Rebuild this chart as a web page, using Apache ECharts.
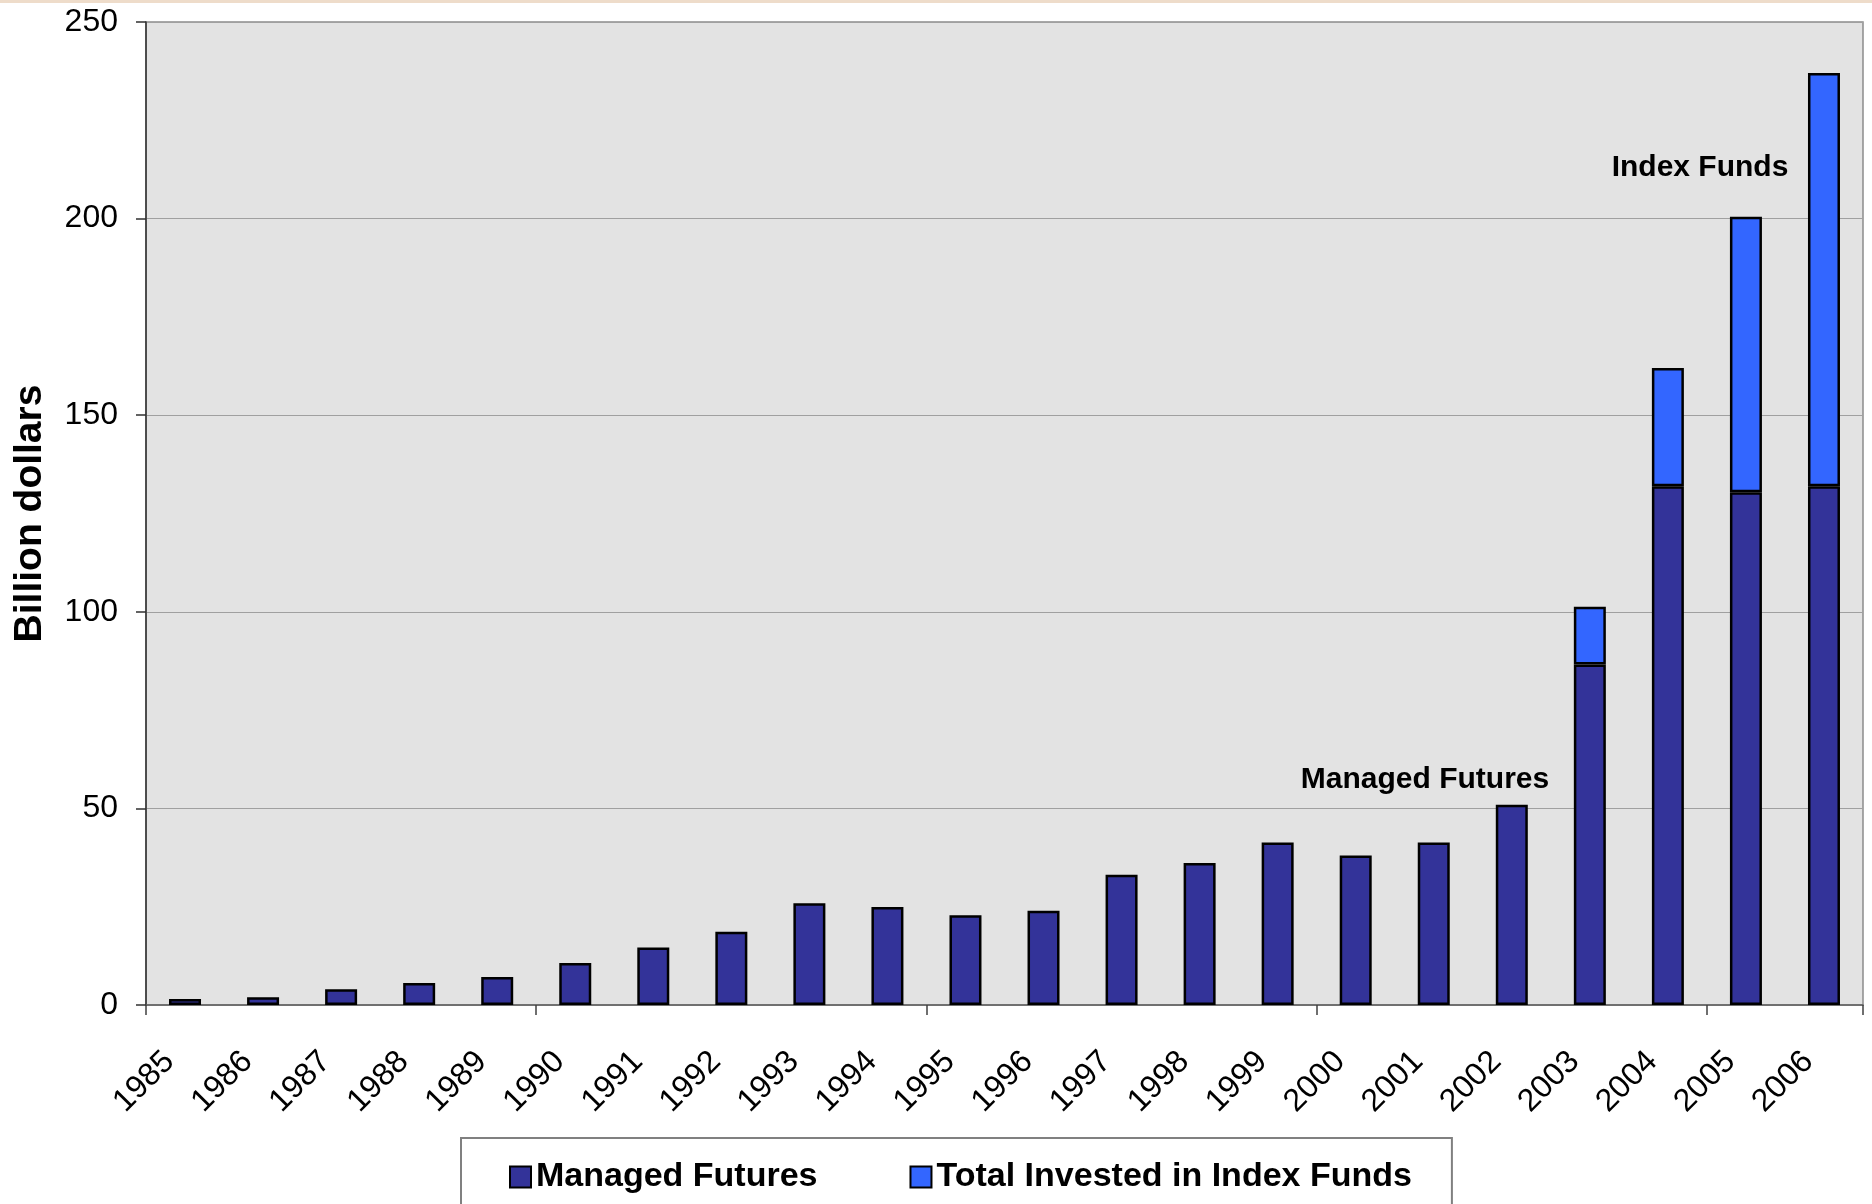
<!DOCTYPE html>
<html>
<head>
<meta charset="utf-8">
<script src="https://cdn.jsdelivr.net/npm/echarts@6/dist/echarts.min.js"></script>
<style>
  html, body { margin: 0; padding: 0; background: #ffffff; }
  #chart { width: 1872px; height: 1204px; }
</style>
</head>
<body>
<div id="chart"></div>
<script>
const years = ['1985','1986','1987','1988','1989','1990','1991','1992','1993','1994','1995',
               '1996','1997','1998','1999','2000','2001','2002','2003','2004','2005','2006'];
const managedFutures = [1.5, 2.0, 4.0, 5.6, 7.1, 10.7, 14.6, 18.6, 25.9, 24.9, 22.8,
                        24.0, 33.1, 36.1, 41.3, 38.0, 41.3, 50.9, 86.6, 131.9, 130.4, 131.9];
const indexFunds = [null, null, null, null, null, null, null, null, null, null, null,
                    null, null, null, null, null, null, null, 14.7, 30.1, 70.1, 105.1];
const yTicks = { min: 0, max: 250, interval: 50 };
const seriesNames = ['Managed Futures', 'Total Invested in Index Funds'];
const annotations = ['Managed Futures', 'Index Funds'];

const FONT = "'Liberation Sans', Arial, sans-serif";
const chart = echarts.init(document.getElementById('chart'), null, { renderer: 'canvas' });

chart.setOption({
  backgroundColor: '#ffffff',
  animation: false,
  textStyle: { fontFamily: FONT },
  grid: {
    left: 146, right: 9, top: 22, bottom: 199,
    show: true, backgroundColor: '#E3E3E3', borderColor: '#8C8C8C', borderWidth: 1.5
  },
  legend: {
    data: seriesNames,
    left: 461, top: 1138,
    orient: 'horizontal',
    icon: 'rect',
    padding: [22, 40, 34, 48],
    itemGap: 92,
    itemWidth: 21, itemHeight: 21,
    borderColor: '#808080', borderWidth: 2,
    backgroundColor: '#ffffff',
    itemStyle: { borderColor: '#000000', borderWidth: 2 },
    textStyle: { fontFamily: FONT, fontSize: 34, fontWeight: 'bold', color: '#000000' }
  },
  xAxis: {
    type: 'category',
    data: years,
    boundaryGap: true,
    axisLine: { show: true, lineStyle: { color: '#606060', width: 1.5 } },
    axisTick: {
      show: true,
      interval: function (index) { return index % 5 === 0; },
      length: 10, lineStyle: { color: '#404040', width: 1.5 }
    },
    axisLabel: {
      interval: 0, rotate: 45, margin: 36, padding: [0, 22, 0, 0],
      fontFamily: FONT, fontSize: 32, color: '#000000'
    },
    splitLine: { show: false }
  },
  yAxis: {
    type: 'value',
    min: yTicks.min, max: yTicks.max, interval: yTicks.interval,
    name: 'Billion dollars',
    nameLocation: 'middle',
    nameRotate: 90,
    nameGap: 96,
    nameTextStyle: { fontFamily: FONT, fontSize: 39, fontWeight: 'bold', color: '#000000' },
    axisLine: { show: true, lineStyle: { color: '#303030', width: 1.5 } },
    axisTick: { show: true, inside: false, length: 10, lineStyle: { color: '#303030', width: 1.5 } },
    axisLabel: { margin: 28, fontFamily: FONT, fontSize: 32, color: '#000000' },
    splitLine: { show: true, lineStyle: { color: '#A0A0A0', width: 1.2 } }
  },
  series: [
    {
      name: seriesNames[0],
      type: 'bar',
      stack: 'total',
      data: managedFutures,
      barWidth: '41%',
      itemStyle: { color: '#333399', borderColor: '#000000', borderWidth: 2.5 }
    },
    {
      name: seriesNames[1],
      type: 'bar',
      stack: 'total',
      data: indexFunds,
      barWidth: '41%',
      itemStyle: { color: '#3366FF', borderColor: '#000000', borderWidth: 2.5 }
    }
  ],
  graphic: [
    { type: 'rect', left: 0, top: 0, z: 100, shape: { width: 1872, height: 3 }, style: { fill: '#EEDCCA' } },
    { type: 'text', x: 1425, y: 780, z: 100,
      style: { text: annotations[0], fill: '#000000', font: "bold 30px " + FONT, textAlign: 'center', textVerticalAlign: 'middle' } },
    { type: 'text', x: 1700, y: 168, z: 100,
      style: { text: annotations[1], fill: '#000000', font: "bold 30px " + FONT, textAlign: 'center', textVerticalAlign: 'middle' } }
  ]
});
</script>
</body>
</html>
